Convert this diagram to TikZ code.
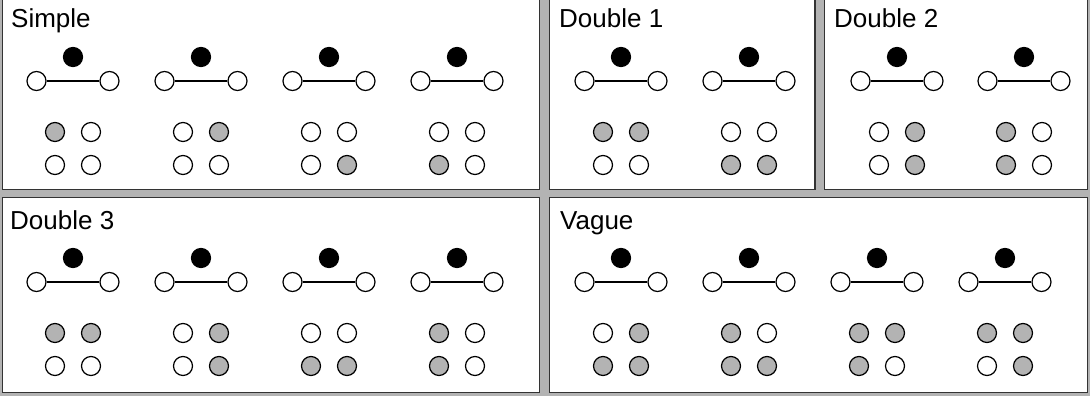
\documentclass[tikz,border=0pt]{standalone}
\usepackage{fontspec}
\setmainfont{Liberation Sans}
\definecolor{panelgray}{HTML}{B3B3B3}
\definecolor{edgegray}{HTML}{333333}
\colorlet{c0}{white}
\colorlet{c1}{panelgray}
\begin{document}
\begin{tikzpicture}[x=1pt,y=-1pt,
  panel/.style={draw=edgegray, line width=1.5pt, fill=white},
  dot/.style={circle, draw=black, line width=1.2pt, minimum size=19pt, inner sep=0pt},
  blackdot/.style={dot, fill=black},
  link/.style={draw=black, line width=1.2pt},
  title/.style={anchor=base west, inner sep=0pt, font=\fontsize{26}{30}\selectfont}]
\fill[panelgray] (0,0) rectangle (1090,396);
\useasboundingbox (0,0) rectangle (1090,396);
% panels
\draw[panel] (2.5,-5) rectangle (539.5,189.5);
\draw[panel] (549.5,-5) rectangle (815,189.5);
\draw[panel] (824.5,-5) rectangle (1087.5,189.5);
\draw[panel] (2.5,197.5) rectangle (539.5,392.5);
\draw[panel] (549.5,197.5) rectangle (1087.5,392.5);
% titles
\node[title] (tsimple) at (11,28) {Simple};
\node[title] (tdone) at (559,28) {Double 1};
\node[title] (tdtwo) at (834,28) {Double 2};
\node[title] (tdthree) at (10,229) {Double 3};
\node[title] (tvague) at (560,229) {Vague};
% motifs
\foreach \n/\x/\y/\a/\b/\c/\d in {
  sa/73/0/1/0/0/0, sb/201/0/0/1/0/0, sc/329/0/0/0/0/1, sd/457/0/0/0/1/0,
  da/621/0/1/1/0/0, db/749/0/0/0/1/1,
  ea/897/0/0/1/0/1, eb/1024/0/1/0/1/0,
  fa/73/201/1/1/0/0, fb/201/201/0/1/0/1, fc/329/201/0/0/1/1, fd/457/201/1/0/1/0,
  va/621/201/0/1/1/1, vb/749/201/1/0/1/1, vc/877/201/1/1/1/0, vd/1005/201/1/1/0/1}{
  \node[blackdot] (\n-k) at (\x,\y+57) {};
  \node[dot, fill=white] (\n-l) at (\x-36.5,\y+81) {};
  \node[dot, fill=white] (\n-r) at (\x+36.5,\y+81) {};
  \draw[link] (\n-l) -- (\n-r);
  \node[dot, fill=c\a] (\n-tl) at (\x-18,\y+132) {};
  \node[dot, fill=c\b] (\n-tr) at (\x+18,\y+132) {};
  \node[dot, fill=c\c] (\n-bl) at (\x-18,\y+165) {};
  \node[dot, fill=c\d] (\n-br) at (\x+18,\y+165) {};
}
\end{tikzpicture}
\end{document}
